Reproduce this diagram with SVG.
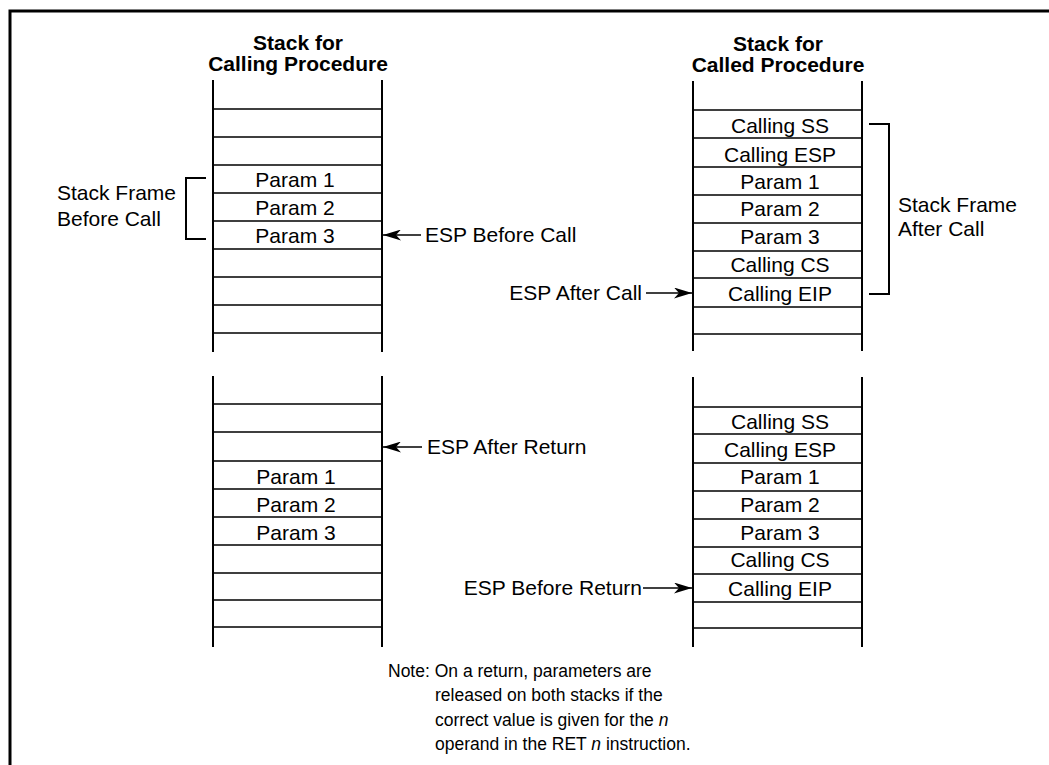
<svg xmlns="http://www.w3.org/2000/svg" width="1049" height="765" viewBox="0 0 1049 765">
<style>
text{font-family:"Liberation Sans",Arial,sans-serif;font-size:21px;fill:#000}
.t{font-weight:bold;text-anchor:middle}
.c{text-anchor:middle}
.e{text-anchor:end}
.n{font-size:17.5px}
.side{stroke:#000;stroke-width:2;fill:none}
.row{stroke:#000;stroke-width:1.3;fill:none}
.br{stroke:#000;stroke-width:2;fill:none}
.ar{stroke:#000;stroke-width:1.3;fill:none}
</style>
<defs>
<marker id="ah" viewBox="0 0 18 11" refX="18" refY="5.5" markerWidth="18" markerHeight="11" markerUnits="userSpaceOnUse" orient="auto">
<path d="M0,0 L18,5.5 L0,11 L5,5.5 z" fill="#000"/>
</marker>
</defs>
<rect width="1049" height="765" fill="#fff"/>
<path d="M10,765 V11 H1049" stroke="#000" stroke-width="3" fill="none"/>

<g id="stack-calling-before">
<text class="t" x="298" y="50">Stack for</text>
<text class="t" x="298" y="71">Calling Procedure</text>
<path class="side" d="M213,80 V352 M382,80 V352"/>
<path class="row" d="M213,109 H382 M213,137 H382 M213,165 H382 M213,193 H382 M213,221 H382 M213,249 H382 M213,277 H382 M213,305 H382 M213,333 H382"/>
<text class="c" x="295" y="187">Param 1</text>
<text class="c" x="295" y="215">Param 2</text>
<text class="c" x="295" y="243">Param 3</text>
</g>

<g id="frame-before-call">
<path class="br" d="M206,178 H186 V239 H206"/>
<text x="57" y="200">Stack Frame</text>
<text x="57" y="226">Before Call</text>
</g>

<g id="stack-called-after">
<text class="t" x="778" y="51">Stack for</text>
<text class="t" x="778" y="72">Called Procedure</text>
<path class="side" d="M693,81 V351 M862,81 V351"/>
<path class="row" d="M693,110 H862 M693,138 H862 M693,167 H862 M693,195 H862 M693,223 H862 M693,251 H862 M693,278 H862 M693,307 H862 M693,334 H862"/>
<text class="c" x="780" y="133">Calling SS</text>
<text class="c" x="780" y="162">Calling ESP</text>
<text class="c" x="780" y="189">Param 1</text>
<text class="c" x="780" y="216">Param 2</text>
<text class="c" x="780" y="244">Param 3</text>
<text class="c" x="780" y="272">Calling CS</text>
<text class="c" x="780" y="301">Calling EIP</text>
</g>

<g id="frame-after-call">
<path class="br" d="M869,124 H889 V294 H869"/>
<text x="898" y="212">Stack Frame</text>
<text x="898" y="236">After Call</text>
</g>

<g id="stack-calling-return">
<path class="side" d="M213,376 V647 M382,376 V647"/>
<path class="row" d="M213,404 H382 M213,432 H382 M213,461 H382 M213,489 H382 M213,517 H382 M213,545 H382 M213,573 H382 M213,600 H382 M213,627 H382"/>
<text class="c" x="296" y="484">Param 1</text>
<text class="c" x="296" y="512">Param 2</text>
<text class="c" x="296" y="540">Param 3</text>
</g>

<g id="stack-called-return">
<path class="side" d="M693,377 V647 M862,377 V647"/>
<path class="row" d="M693,407 H862 M693,434 H862 M693,463 H862 M693,491 H862 M693,519 H862 M693,547 H862 M693,574 H862 M693,602 H862 M693,628 H862"/>
<text class="c" x="780" y="429">Calling SS</text>
<text class="c" x="780" y="457">Calling ESP</text>
<text class="c" x="780" y="484">Param 1</text>
<text class="c" x="780" y="512">Param 2</text>
<text class="c" x="780" y="540">Param 3</text>
<text class="c" x="780" y="567">Calling CS</text>
<text class="c" x="780" y="596">Calling EIP</text>
</g>

<g id="connectors">
<line class="ar" x1="421" y1="235" x2="383" y2="235" marker-end="url(#ah)"/>
<line class="ar" x1="646" y1="293" x2="692" y2="293" marker-end="url(#ah)"/>
<line class="ar" x1="422" y1="447" x2="383" y2="447" marker-end="url(#ah)"/>
<line class="ar" x1="643" y1="588" x2="692" y2="588" marker-end="url(#ah)"/>
</g>

<g id="labels">
<text x="425" y="242">ESP Before Call</text>
<text class="e" x="642" y="300">ESP After Call</text>
<text x="427" y="454">ESP After Return</text>
<text class="e" x="642" y="595">ESP Before Return</text>
</g>

<g id="note">
<text class="n" x="388" y="677">Note: On a return, parameters are</text>
<text class="n" x="435" y="701">released on both stacks if the</text>
<text class="n" x="435" y="726">correct value is given for the <tspan font-style="italic">n</tspan></text>
<text class="n" x="435" y="750">operand in the RET <tspan font-style="italic">n</tspan> instruction.</text>
</g>
</svg>
